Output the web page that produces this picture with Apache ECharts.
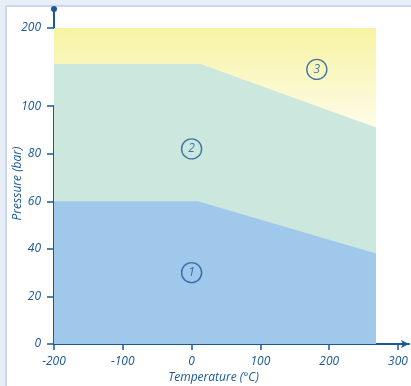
<!DOCTYPE html>
<html><head><meta charset="utf-8">
<script src="https://cdn.jsdelivr.net/npm/echarts@6/dist/echarts.min.js"></script>
<style>html,body{margin:0;padding:0;background:#e8eef7;}#c{width:411px;height:386px;}</style>
</head><body><div id="c"></div>
<script>
// Data
const xTicks = [-200, -100, 0, 100, 200, 300];
const yTicks = [0, 20, 40, 60, 80, 100, 200];
const zone1 = [[-200, 60], [9, 60], [268, 38]];
const zone2 = [[-200, 154], [13, 154], [268, 91]];
const zone3 = [[-200, 200], [268, 200]];
const zoneLabels = [[0, 30, '1'], [0, 82, '2'], [182, 147, '3']];

const blue = '#1a5898';
const font = 'Open Sans';
const chart = echarts.init(document.getElementById('c'), null, {renderer: 'canvas'});
chart.setOption({
  animation: false,
  backgroundColor: '#e8eef7',
  graphic: [
    {type: 'rect', z: -10, shape: {x: 5, y: 5, width: 420, height: 400}, style: {fill: '#ccd7ef'}},
    {type: 'rect', z: -9, shape: {x: 7, y: 7, width: 420, height: 400}, style: {fill: '#ffffff'}}
  ],
  grid: {left: 54, right: 2, top: 9, bottom: 42, outerBoundsMode: 'none', containLabel: false},
  xAxis: {
    type: 'value', min: -200, max: 316,
    name: 'Temperature (°C)', nameLocation: 'middle', nameGap: 28, nameMoveOverlap: false,
    nameTextStyle: {color: blue, fontFamily: font, fontStyle: 'italic', fontSize: 12, padding: [0, 36, 0, 0]},
    axisLine: {onZero: false, lineStyle: {color: blue, width: 2}, symbol: ['none', 'arrow'], symbolSize: [6, 8]},
    axisTick: {customValues: xTicks, length: 6, lineStyle: {color: blue, width: 1.5}},
    axisLabel: {customValues: xTicks, color: blue, fontFamily: font, fontStyle: 'italic', fontSize: 12, margin: 12},
    splitLine: {show: false}
  },
  yAxis: {
    type: 'value', min: 0, max: 208,
    breaks: [{start: 100, end: 200, gap: '23.3%'}],
    breakArea: {show: false},
    name: 'Pressure (bar)', nameLocation: 'middle', nameGap: 30, nameMoveOverlap: false,
    nameTextStyle: {color: blue, fontFamily: font, fontStyle: 'italic', fontSize: 12, padding: [0, 14, 0, 0]},
    axisLine: {onZero: false, lineStyle: {color: blue, width: 2}, symbol: ['none', 'circle'], symbolSize: [6, 6]},
    axisTick: {customValues: yTicks, length: 7, lineStyle: {color: blue, width: 1.5}},
    axisLabel: {customValues: yTicks, color: blue, fontFamily: font, fontStyle: 'italic', fontSize: 12, margin: 13},
    splitLine: {show: false}
  },
  series: [
    {type: 'line', data: zone3, symbol: 'none', lineStyle: {width: 0}, z: 1,
     areaStyle: {opacity: 1, color: {type: 'linear', x: 0, y: 0, x2: 0, y2: 1, colorStops: [
       {offset: 0, color: '#f7f3a3'}, {offset: 0.33, color: '#fefcec'}, {offset: 1, color: '#ffffff'}]}}},
    {type: 'line', data: zone2, symbol: 'none', lineStyle: {width: 0}, z: 1,
     areaStyle: {opacity: 1, color: '#cce7de'}},
    {type: 'line', data: zone1, symbol: 'none', lineStyle: {width: 0}, z: 1,
     areaStyle: {opacity: 1, color: '#9fc8ea'}},
    {type: 'scatter', data: zoneLabels, symbol: 'circle', symbolSize: 20, z: 5,
     itemStyle: {color: 'rgba(0,0,0,0)', borderColor: blue, borderWidth: 1.4},
     label: {show: true, position: 'inside', formatter: p => p.value[2], color: blue,
       fontFamily: font, fontStyle: 'italic', fontSize: 12}}
  ]
});
</script></body></html>
